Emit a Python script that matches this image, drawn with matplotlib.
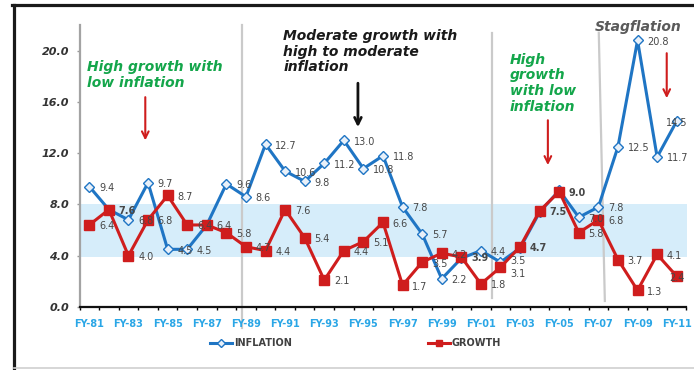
import matplotlib
matplotlib.use("Agg")
import matplotlib.pyplot as plt
from matplotlib.lines import Line2D
import numpy as np

years = ["FY-81", "FY-82", "FY-83", "FY-84", "FY-85", "FY-86", "FY-87", "FY-88", "FY-89", "FY-90",
         "FY-91", "FY-92", "FY-93", "FY-94", "FY-95", "FY-96", "FY-97", "FY-98", "FY-99", "FY-00",
         "FY-01", "FY-02", "FY-03", "FY-04", "FY-05", "FY-06", "FY-07", "FY-08", "FY-09", "FY-10", "FY-11"]
inflation = [9.4, 7.6, 6.8, 9.7, 4.5, 4.5, 6.4, 9.6, 8.6, 12.7,
             10.6, 9.8, 11.2, 13.0, 10.8, 11.8, 7.8, 5.7, 2.2, 3.8,
             4.4, 3.5, 4.6, 7.4, 9.1, 7.0, 7.8, 12.5, 20.8, 11.7, 14.5]
growth = [6.4, 7.6, 4.0, 6.8, 8.7, 6.4, 6.4, 5.8, 4.7, 4.4,
          7.6, 5.4, 2.1, 4.4, 5.1, 6.6, 1.7, 3.5, 4.2, 3.9,
          1.8, 3.1, 4.7, 7.5, 9.0, 5.8, 6.8, 3.7, 1.3, 4.1, 2.4]
band = (3.9, 8.0)
yticks = [0, 4, 8, 12, 16, 20]

BLUE = "#1f75c4"
RED = "#cf1d1d"
GREEN = "#14a64b"
LABEL = "#474747"

hidden_infl = {1, 6, 19, 22, 23, 24}
bold_growth = {1, 19, 22, 23, 24}
infl_dy = {21: 1.5}
growth_dy = {21: -3.5}

W, H = 694, 370
fig = plt.figure(figsize=(W / 100, H / 100), dpi=100)
ax = fig.add_axes([79.5 / W, 1 - 307 / H, 607 / W, 282 / H])

x = np.arange(len(years))
ax.axhspan(band[0], band[1], color="#d6edfa", zorder=0, lw=0)

ax.plot(x, inflation, color=BLUE, lw=2.2, marker="D", ms=4.6,
        mfc="#e8f0f9", mec=BLUE, mew=1.0, zorder=3, label="INFLATION")
ax.plot(x, growth, color=RED, lw=2.2, marker="s", ms=6.5,
        mfc=RED, mec=RED, zorder=4, label="GROWTH")

n = len(years)
for i, v in enumerate(inflation):
    if i in hidden_infl:
        continue
    dy = -1 + infl_dy.get(i, 0)
    if i == n - 1:
        ax.annotate(f"{v:.1f}", (x[i], v), xytext=(0, dy), textcoords="offset points",
                    ha="center", va="center", fontsize=7, color=LABEL, zorder=6)
    else:
        ax.annotate(f"{v:.1f}", (x[i], v), xytext=(7, dy), textcoords="offset points",
                    ha="left", va="center", fontsize=7, color=LABEL, zorder=6)
for i, v in enumerate(growth):
    fw = "bold" if i in bold_growth else "normal"
    dy = -1 + growth_dy.get(i, 0)
    if i == n - 1:
        ax.annotate(f"{v:.1f}", (x[i], v), xytext=(0, dy), textcoords="offset points",
                    ha="center", va="center", fontsize=7, color=LABEL, fontweight=fw, zorder=6)
    else:
        ax.annotate(f"{v:.1f}", (x[i], v), xytext=(7, dy), textcoords="offset points",
                    ha="left", va="center", fontsize=7, color=LABEL, fontweight=fw, zorder=6)

ax.set_xlim(-0.5, n - 0.5)
ax.set_ylim(0, 22)

ax.set_xticks(x[::2])
ax.set_xticklabels(years[::2], fontsize=7, fontweight="bold", color="#2aa6e6")
ax.set_xticks(np.arange(-0.5, n, 1.0), minor=True)
ax.tick_params(axis="x", which="major", length=0, pad=8.5)
ax.tick_params(axis="x", which="minor", length=2.5, width=1.0, color="black", direction="out")

ax.set_yticks(yticks)
ax.set_yticklabels([f"{t:.1f}" for t in yticks], fontsize=8, fontweight="bold",
                   fontstyle="italic", color="#333333")
ax.tick_params(axis="y", length=2.5, width=1.0, color="#999999", pad=5)

for s in ("top", "right"):
    ax.spines[s].set_visible(False)
ax.spines["left"].set_color("#a3a3a3")
ax.spines["left"].set_linewidth(1.6)
ax.spines["bottom"].set_color("#111111")
ax.spines["bottom"].set_linewidth(1.6)

# separators
sep_kw = dict(color="#cacaca", lw=1.6, zorder=1, clip_on=False)
ax.plot([7.81, 7.81], [22, -1.65], **sep_kw)
ax.plot([20.56, 20.56], [21.4, 0.7], **sep_kw)
ax.plot([26.02, 26.33], [21.4, 0.47], **sep_kw)

# annotation texts
ax.text(-0.1, 18.08, "High growth with\nlow inflation", color=GREEN, fontsize=10,
        fontweight="bold", fontstyle="italic", ha="left", va="center", linespacing=1.15)
ax.text(9.9, 19.91, "Moderate growth with\nhigh to moderate\ninflation", color="#1a1a1a",
        fontsize=10, fontweight="bold", fontstyle="italic", ha="left", va="center", linespacing=1.15)
ax.text(21.48, 17.46, "High\ngrowth\nwith low\ninflation", color=GREEN, fontsize=10,
        fontweight="bold", fontstyle="italic", ha="left", va="center", linespacing=1.15)
ax.text(25.82, 21.82, "Stagflation", color="#5a5a5a", fontsize=10,
        fontweight="bold", fontstyle="italic", ha="left", va="center")

def arrow(xx, y0, y1, color, lw):
    ax.annotate("", xy=(xx, y1), xytext=(xx, y0),
                arrowprops=dict(arrowstyle="->", color=color, lw=lw,
                                mutation_scale=12, shrinkA=0, shrinkB=0))

arrow(2.86, 16.37, 13.0, RED, 1.5)
arrow(13.72, 17.46, 14.03, "#111111", 2.0)
arrow(23.42, 14.57, 11.07, RED, 1.5)
arrow(29.49, 19.8, 16.29, RED, 1.5)

leg = fig.legend(loc="center left", bbox_to_anchor=(210 / W, 1 - 343 / H), ncol=2,
                 frameon=False, handlelength=2.3, handletextpad=0.15,
                 columnspacing=14.0, borderpad=0, borderaxespad=0,
                 prop={"weight": "bold", "size": 7})
for t in leg.get_texts():
    t.set_color("#404040")
for h in leg.legend_handles:
    h.set_markersize(4)

# outer frame
fig.add_artist(Line2D([13.5 / W, 13.5 / W], [0, 1 - 5 / H], transform=fig.transFigure,
                      color="#1a1a1a", lw=2.3))
fig.add_artist(Line2D([12 / W, 1], [1 - 5 / H, 1 - 5 / H], transform=fig.transFigure,
                      color="#1a1a1a", lw=2.3))
fig.add_artist(Line2D([14 / W, 1], [2 / H, 2 / H], transform=fig.transFigure,
                      color="#d0d0d0", lw=1.2))

fig.savefig("out.png", dpi=100)
